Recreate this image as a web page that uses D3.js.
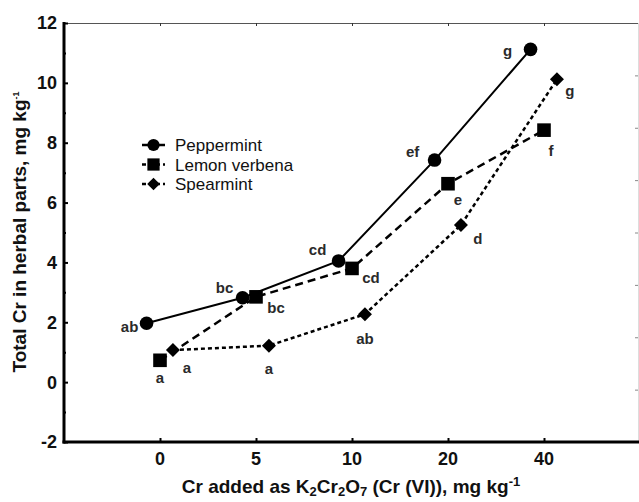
<!DOCTYPE html>
<html><head><meta charset="utf-8">
<script src="https://cdn.jsdelivr.net/npm/d3@7"></script>
<style>body{margin:0;background:#fff} svg{display:block}</style>
</head><body><svg id="c" width="639" height="502"></svg>
<script>
// ---- data ----
const categories = ["0", "5", "10", "20", "40"];
const seriesNames = ["Peppermint", "Lemon verbena", "Spearmint"];
const peppermint = [1.97, 2.82, 4.05, 7.42, 11.12];
const lemonVerbena = [0.73, 2.85, 3.8, 6.63, 8.42];
const spearmint = [1.07, 1.22, 2.27, 5.25, 10.12];
const peppermintLetters = ["ab", "bc", "cd", "ef", "g"];
const lemonVerbenaLetters = ["a", "bc", "cd", "e", "f"];
const spearmintLetters = ["a", "a", "ab", "d", "g"];
const yTicks = [-2, 0, 2, 4, 6, 8, 10, 12];

// ---- layout / style ----
const svg = d3.select("#c");
const L = 64, R = 638, T = 23, B = 442;
const x = d3.scaleLinear().domain([-1, 5]).range([L, 640]);
const y = d3.scaleLinear().domain([-2, 12]).range([B, T]);
const font = "'Liberation Sans', Arial, sans-serif";

const series = [
  {name: seriesNames[0], values: peppermint, letters: peppermintLetters, shift: -0.14, dash: null, width: 2, marker: "circle",
   lab: [[-17, 4], [-18, -10], [-21, -11], [-22, -8], [-23, 1]]},
  {name: seriesNames[1], values: lemonVerbena, letters: lemonVerbenaLetters, shift: 0, dash: "8,5", width: 2.5, marker: "square",
   lab: [[0, 17], [20, 11], [19, 9], [10, 16], [7, 21]]},
  {name: seriesNames[2], values: spearmint, letters: spearmintLetters, shift: 0.135, dash: "4,3", width: 2.5, marker: "diamond",
   lab: [[14, 18], [0, 23], [0, 25], [17, 14], [13, 11]]}
];

function drawMarker(g, type, cx, cy, s) {
  if (type === "circle") g.append("circle").attr("cx", cx).attr("cy", cy).attr("r", 6.8 * s).attr("fill", "#000");
  else if (type === "square") g.append("rect").attr("x", cx - 6.8 * s).attr("y", cy - 6.8 * s).attr("width", 13.6 * s).attr("height", 13.6 * s).attr("fill", "#000");
  else g.append("path").attr("d", `M${cx},${cy - 7 * s}L${cx + 7 * s},${cy}L${cx},${cy + 7 * s}L${cx - 7 * s},${cy}Z`).attr("fill", "#000");
}

// frame: top and right (thin)
svg.append("line").attr("x1", L).attr("x2", 639).attr("y1", T + 0.5).attr("y2", T + 0.5).attr("stroke", "#555").attr("stroke-width", 1.2);
svg.append("line").attr("x1", R + 0.5).attr("x2", R + 0.5).attr("y1", T).attr("y2", B).attr("stroke", "#ddd").attr("stroke-width", 1);
// right ticks (secondary, unlabeled)
const yr = d3.scaleLinear().domain([0, 8]).range([B, T]);
svg.append("g").attr("transform", `translate(${R},0)`)
  .call(d3.axisLeft(yr).tickValues(d3.range(1, 8)).tickSize(3).tickFormat(""))
  .call(g => g.select(".domain").remove())
  .call(g => g.selectAll("line").attr("stroke", "#888"));
// top ticks
svg.append("g").attr("transform", `translate(0,${T})`)
  .call(d3.axisBottom(x).tickValues(d3.range(categories.length)).tickSize(3).tickFormat(""))
  .call(g => g.select(".domain").remove())
  .call(g => g.selectAll("line").attr("stroke", "#333"));

// left axis
const yAxis = svg.append("g").attr("transform", `translate(${L},0)`)
  .call(d3.axisRight(y).tickValues(yTicks).tickSize(4).tickFormat(""));
yAxis.select(".domain").remove();
yAxis.selectAll("line").attr("stroke", "#000").attr("stroke-width", 2);
svg.append("g").attr("transform", `translate(${L},0)`)
  .call(d3.axisRight(y).tickValues(d3.range(-1, 12, 2)).tickSize(2).tickFormat(""))
  .call(g => g.select(".domain").remove())
  .call(g => g.selectAll("line").attr("stroke", "#000").attr("stroke-width", 2));
svg.append("line").attr("x1", L).attr("x2", L).attr("y1", T - 1).attr("y2", B + 1.5).attr("stroke", "#000").attr("stroke-width", 3);
svg.append("g").selectAll("text").data(yTicks).join("text")
  .attr("x", L - 7).attr("y", d => y(d)).attr("dy", "0.36em").attr("text-anchor", "end")
  .attr("font-family", font).attr("font-weight", "bold").attr("font-size", 18).attr("fill", "#111")
  .text(d => d);

// bottom axis
const xAxis = svg.append("g").attr("transform", `translate(0,${B})`)
  .call(d3.axisTop(x).tickValues(d3.range(categories.length)).tickSize(4).tickFormat(""));
xAxis.select(".domain").remove();
xAxis.selectAll("line").attr("stroke", "#000").attr("stroke-width", 2);
svg.append("line").attr("x1", L - 1.5).attr("x2", 639).attr("y1", B).attr("y2", B).attr("stroke", "#000").attr("stroke-width", 3);
svg.append("g").selectAll("text").data(categories).join("text")
  .attr("x", (d, i) => x(i)).attr("y", 465).attr("text-anchor", "middle")
  .attr("font-family", font).attr("font-weight", "bold").attr("font-size", 18).attr("fill", "#111")
  .text(d => d);

// series
series.forEach(s => {
  const line = d3.line().x((d, i) => x(i + s.shift)).y(d => y(d));
  svg.append("path").datum(s.values).attr("d", line).attr("fill", "none")
    .attr("stroke", "#000").attr("stroke-width", s.width)
    .attr("stroke-dasharray", s.dash);
  const g = svg.append("g");
  s.values.forEach((v, i) => drawMarker(g, s.marker, x(i + s.shift), y(v), 1));
  svg.append("g").selectAll("text").data(s.values).join("text")
    .attr("x", (d, i) => x(i + s.shift) + s.lab[i][0])
    .attr("y", (d, i) => y(d) + s.lab[i][1])
    .attr("dy", "0.35em").attr("text-anchor", "middle")
    .attr("font-family", font).attr("font-weight", "bold").attr("font-size", 15).attr("fill", "#2a2a2a")
    .text((d, i) => s.letters[i]);
});

// legend
series.forEach((s, k) => {
  const ly = 145 + k * 19.5;
  svg.append("line").attr("x1", 142).attr("x2", 165).attr("y1", ly).attr("y2", ly)
    .attr("stroke", "#000").attr("stroke-width", 2.5).attr("stroke-dasharray", k === 0 ? null : "4,3");
  drawMarker(svg, s.marker, 153.5, ly, 0.9);
  svg.append("text").attr("x", 175).attr("y", ly).attr("dy", "0.36em")
    .attr("font-family", font).attr("font-size", 17).attr("fill", "#111").text(s.name);
});

// x title
const xt = svg.append("text").attr("x", 351).attr("y", 493).attr("text-anchor", "middle")
  .attr("font-family", font).attr("font-weight", "bold").attr("font-size", 19).attr("fill", "#111");
xt.append("tspan").text("Cr added as K");
xt.append("tspan").attr("dy", 3).attr("font-size", 13).text("2");
xt.append("tspan").attr("dy", -3).text("Cr");
xt.append("tspan").attr("dy", 3).attr("font-size", 13).text("2");
xt.append("tspan").attr("dy", -3).text("O");
xt.append("tspan").attr("dy", 3).attr("font-size", 13).text("7");
xt.append("tspan").attr("dy", -3).text(" (Cr (VI)), mg kg");
xt.append("tspan").attr("dy", -7).attr("font-size", 13).text("-1");

// y title
const yt = svg.append("text").attr("transform", "translate(26,232) rotate(-90)").attr("text-anchor", "middle")
  .attr("font-family", font).attr("font-weight", "bold").attr("font-size", 19).attr("fill", "#111");
yt.append("tspan").text("Total Cr in herbal parts, mg kg");
yt.append("tspan").attr("dy", -7).attr("font-size", 9).text("-1");
</script></body></html>
